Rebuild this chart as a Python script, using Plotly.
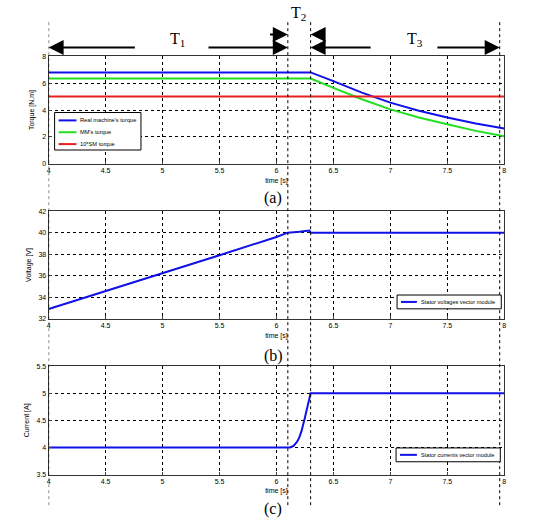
import plotly.graph_objects as go

# ---- data ----
t_torque = [4.0, 6.3, 6.5, 6.75, 7.0, 7.25, 7.5, 7.75, 8.0]
real_torque = [6.8, 6.8, 6.15, 5.3, 4.55, 3.95, 3.45, 3.0, 2.62]
mm_torque = [6.35, 6.35, 5.65, 4.8, 4.05, 3.45, 2.95, 2.45, 2.05]
t_sm = [4.0, 8.0]
sm_torque = [5.0, 5.0]

t_volt = [4.0, 4.5, 5.0, 5.5, 6.0, 6.1, 6.2, 6.29, 6.3, 8.0]
voltage = [32.9, 34.55, 36.25, 37.9, 39.6, 40.0, 40.08, 40.2, 40.0, 40.0]

t_curr = [4.0, 6.12, 6.15, 6.18, 6.2, 6.22, 6.25, 6.27, 6.29, 6.3, 8.0]
current = [4.0, 4.0, 4.03, 4.1, 4.18, 4.3, 4.55, 4.75, 4.92, 5.0, 5.0]

names_a = ["Real machine's torque", "MM's torque", "10*SM torque"]
name_b = "Stator voltages vector module"
name_c = "Stator currents vector module"
colors_a = ["#1010e8", "#20e020", "#e82020"]
blue = "#1010e8"

x_ticks = [4, 4.5, 5, 5.5, 6, 6.5, 7, 7.5, 8]
phase_marks = [4.0, 6.1, 6.3, 7.96]

W, H = 540, 520
def px(x):
    return x / W
def py(y):
    return 1 - y / H

fig = go.Figure()

fig.add_trace(go.Scatter(x=t_torque, y=real_torque, mode="lines", name=names_a[0],
                         line=dict(color=colors_a[0], width=2), xaxis="x", yaxis="y"))
fig.add_trace(go.Scatter(x=t_torque, y=mm_torque, mode="lines", name=names_a[1],
                         line=dict(color=colors_a[1], width=2), xaxis="x", yaxis="y"))
fig.add_trace(go.Scatter(x=t_sm, y=sm_torque, mode="lines", name=names_a[2],
                         line=dict(color=colors_a[2], width=2), xaxis="x", yaxis="y"))
fig.add_trace(go.Scatter(x=t_volt, y=voltage, mode="lines", name=name_b,
                         line=dict(color=blue, width=2), xaxis="x2", yaxis="y2"))
fig.add_trace(go.Scatter(x=t_curr, y=current, mode="lines", name=name_c,
                         line=dict(color=blue, width=2), xaxis="x3", yaxis="y3"))

xd = [px(47), px(506)]
def yd(top, bot):
    return [py(bot), py(top)]

small = dict(family="Liberation Sans", size=7, color="black")
common_x = dict(range=[4, 8], tickvals=x_ticks, showgrid=True, gridcolor="black", griddash="dot",
                gridwidth=0.6, showline=True, linecolor="#333", mirror=True, ticks="inside", ticklen=3,
                tickfont=small, zeroline=False, domain=xd,
                title=dict(text="time [s]", font=small, standoff=4))
common_y = dict(showgrid=True, gridcolor="black", griddash="dot", gridwidth=0.6, showline=True,
                linecolor="#333", mirror=True, ticks="inside", ticklen=3, tickfont=small, zeroline=False)

fig.update_layout(
    width=W, height=H, margin=dict(l=0, r=0, t=0, b=0),
    paper_bgcolor="white", plot_bgcolor="white", showlegend=False,
    xaxis=dict(**common_x, anchor="y"),
    xaxis2=dict(**common_x, anchor="y2"),
    xaxis3=dict(**common_x, anchor="y3"),
    yaxis=dict(**common_y, range=[0, 8], dtick=2, domain=yd(53, 162), anchor="x",
               title=dict(text="Torque [N.m]", font=small, standoff=6)),
    yaxis2=dict(**common_y, range=[32, 42], dtick=2, domain=yd(210, 319), anchor="x2",
                title=dict(text="Voltage [V]", font=small, standoff=6)),
    yaxis3=dict(**common_y, range=[3.5, 5.5], dtick=0.5, domain=yd(367, 477), anchor="x3",
                title=dict(text="Current [A]", font=small, standoff=6)),
)

# vertical phase marks across the whole figure
for xm in phase_marks:
    fig.add_shape(type="line", xref="x", yref="paper", x0=xm, x1=xm, y0=py(508), y1=py(18),
                  line=dict(color="black", width=1, dash="dot"))

def ann_text(x, ypx, text, size=16):
    fig.add_annotation(x=x, y=py(ypx), xref="x", yref="paper", text=text, showarrow=False,
                       xanchor="center", yanchor="middle",
                       font=dict(family="Liberation Serif", size=size, color="black"))

ann_text(5.13, 36, "T<sub>1</sub>")
ann_text(6.19, 10, "T<sub>2</sub>")
ann_text(7.22, 36, "T<sub>3</sub>")
ann_text(5.97, 197, "(a)")
ann_text(5.97, 357, "(b)")
ann_text(5.97, 512, "(c)")

def arrow(x_tip, x_tail, ypx):
    fig.add_annotation(x=x_tip, y=py(ypx), xref="x", yref="paper", ax=x_tail, axref="x",
                       ay=0, ayref="pixel", showarrow=True, arrowhead=2, arrowsize=1.5,
                       arrowwidth=2, arrowcolor="black", text="")

arrow(4.0, 4.77, 44)
arrow(6.1, 5.39, 44)
arrow(6.1, 5.93, 31)
arrow(6.3, 6.43, 31)
arrow(6.3, 6.84, 44)
arrow(7.96, 7.40, 44)

# ---- legends (drawn as boxes with line samples and labels) ----
def legend_box(x0, y0, x1, y1, items, fsize):
    fig.add_shape(type="rect", xref="paper", yref="paper", x0=px(x0), x1=px(x1), y0=py(y1), y1=py(y0),
                  line=dict(color="black", width=1), fillcolor="white", layer="above")
    for (name, col, yy, lx0, lx1) in items:
        fig.add_shape(type="line", xref="paper", yref="paper", x0=px(lx0), x1=px(lx1), y0=py(yy), y1=py(yy),
                      line=dict(color=col, width=2), layer="above")
        fig.add_annotation(x=px(lx1 + 2), y=py(yy), xref="paper", yref="paper", text=name,
                           showarrow=False, xanchor="left", yanchor="middle",
                           font=dict(family="Liberation Sans", size=fsize, color="black"))

legend_box(53, 110, 140, 148, [(names_a[0], colors_a[0], 118, 57, 75),
                               (names_a[1], colors_a[1], 130, 57, 75),
                               (names_a[2], colors_a[2], 142, 57, 75)], 5.7)
legend_box(398, 295, 503, 309, [(name_b, blue, 302, 402, 418)], 5.6)
legend_box(397, 450, 502, 464, [(name_c, blue, 457, 401, 418)], 5.6)

fig.write_html("out.html")
